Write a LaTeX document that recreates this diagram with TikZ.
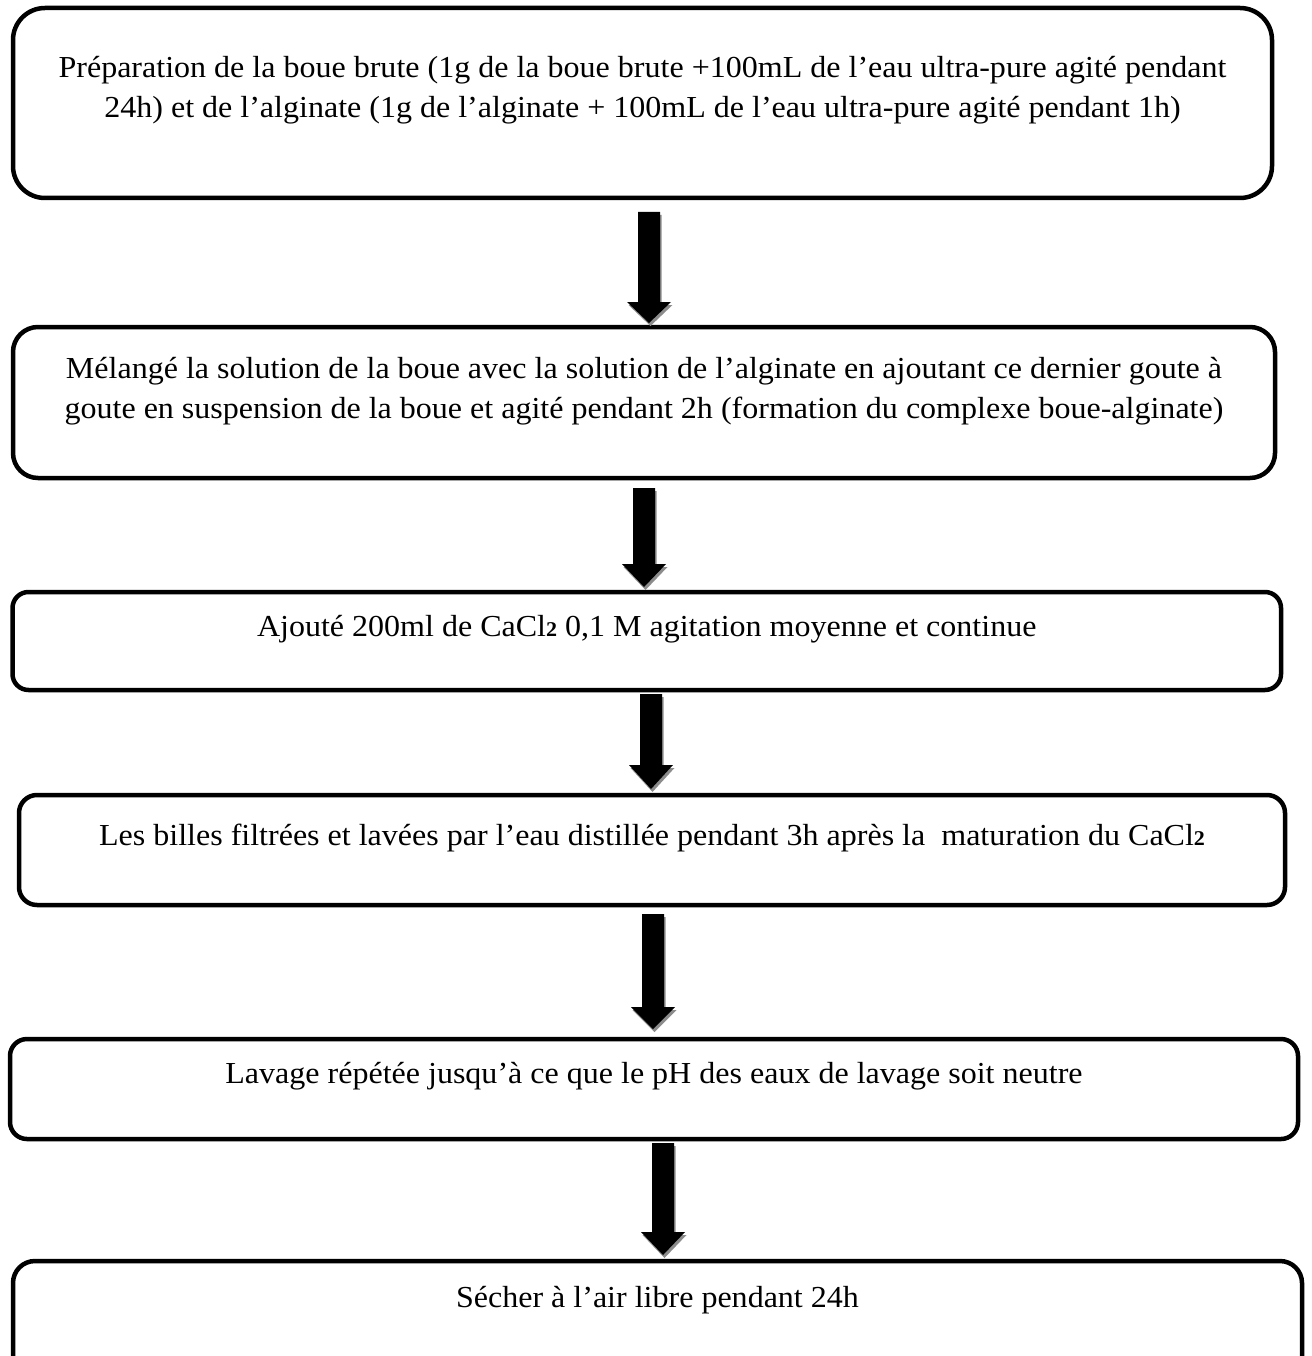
\documentclass[tikz,border=0pt]{standalone}
\usepackage{fontspec}
\setmainfont{Liberation Serif}[FakeStretch=1.05]
\newcommand\subdeux{\raisebox{-0.5pt}{\fontsize{21}{21}\selectfont\bfseries 2}}
\newcommand\blockarrow[5]{% name, cx, top, headstart, tip
  \fill[arrowshadow] (#2-11+1.5,#3+3) -- (#2+11+1.5,#3+3) -- (#2+11+1.5,#4+3) -- (#2+22+1.5,#4+3) -- (#2+1.5,#5+3) -- (#2-22+1.5,#4+3) -- (#2-11+1.5,#4+3) -- cycle;
  \fill[black] (#2-11,#3) -- (#2+11,#3) -- (#2+11,#4) -- (#2+22,#4) -- (#2,#5) -- (#2-22,#4) -- (#2-11,#4) -- cycle;
  \coordinate (#1) at (#2,#5);}
\begin{document}
\begin{tikzpicture}[x=1pt,y=-1pt,
  stepbox/.style={draw=black, line width=4.5pt, inner sep=0pt, fill=white},
  steptext/.style={font=\fontsize{30.5}{40}\selectfont, inner sep=0pt, anchor=base, align=center},
  arrowshadow/.style={fill=black!45}]
\useasboundingbox[fill=white] (0,0) rectangle (1311,1356);
% boxes
\node[stepbox, minimum width=1259pt, minimum height=190pt, rounded corners=32pt] (b1) at (642.5,103) {};
\node[stepbox, minimum width=1262pt, minimum height=151pt, rounded corners=25pt] (b2) at (644,402.5) {};
\node[stepbox, minimum width=1268.5pt, minimum height=98pt, rounded corners=16pt] (b3) at (646.75,641) {};
\node[stepbox, minimum width=1266pt, minimum height=110pt, rounded corners=18pt] (b4) at (652,850) {};
\node[stepbox, minimum width=1288pt, minimum height=100pt, rounded corners=17pt] (b5) at (654,1089) {};
\node[stepbox, minimum width=1289pt, minimum height=150pt, rounded corners=22pt] (b6) at (657.5,1336) {};
% texts
\node[steptext] (t1a) at (642.5,78) {Préparation de la boue brute (1g de la boue brute +100mL de l’eau ultra-pure agité pendant};
\node[steptext] (t1b) at (642.5,118) {24h) et de l’alginate (1g de l’alginate + 100mL de l’eau ultra-pure agité pendant 1h)};
\node[steptext] (t2a) at (644,378) {Mélangé la solution de la boue avec la solution de l’alginate en ajoutant ce dernier goute à};
\node[steptext] (t2b) at (644,418) {goute en suspension de la boue et agité pendant 2h (formation du complexe boue-alginate)};
\node[steptext] (t3) at (646.75,636) {Ajouté 200ml de CaCl\subdeux{} 0,1 M agitation moyenne et continue};
\node[steptext] (t4) at (652,845) {Les billes filtrées et lavées par l’eau distillée pendant 3h après la \ maturation du CaCl\subdeux};
\node[steptext] (t5) at (654,1083) {Lavage répétée jusqu’à ce que le pH des eaux de lavage soit neutre};
\node[steptext] (t6) at (657.5,1307) {Sécher à l’air libre pendant 24h};
% arrows
\blockarrow{a1}{649}{212}{302}{323}
\blockarrow{a2}{644}{488}{564}{587}
\blockarrow{a3}{651}{694}{765}{789}
\blockarrow{a4}{653}{914}{1007}{1029}
\blockarrow{a5}{663}{1143}{1232}{1255}
\end{tikzpicture}
\end{document}
